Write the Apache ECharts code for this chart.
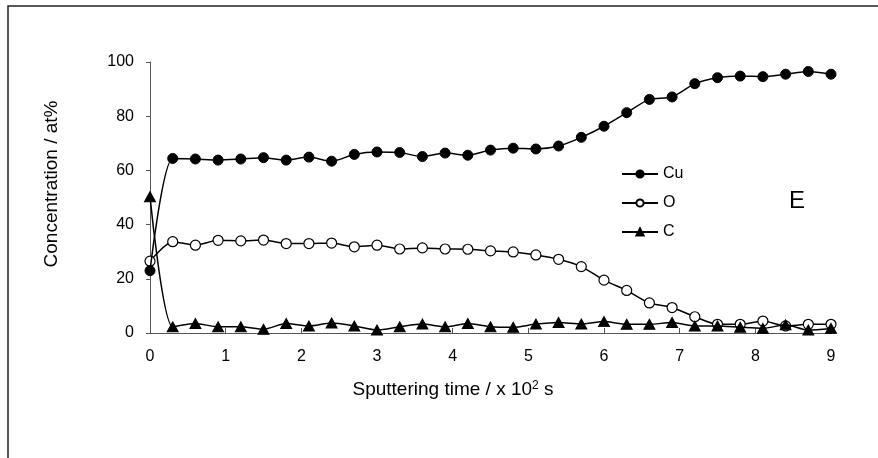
<!DOCTYPE html>
<html>
<head>
<meta charset="utf-8">
<script src="https://cdn.jsdelivr.net/npm/echarts@6/dist/echarts.min.js"></script>
<style>
html,body{margin:0;padding:0;background:#fff;}
#chart{width:878px;height:458px;}
</style>
</head>
<body>
<div id="chart"></div>
<script>
// Sputtering time (x 10^2 s)
var time = [0, 0.3, 0.6, 0.9, 1.2, 1.5, 1.8, 2.1, 2.4, 2.7, 3.0, 3.3, 3.6, 3.9, 4.2, 4.5, 4.8, 5.1, 5.4, 5.7, 6.0, 6.3, 6.6, 6.9, 7.2, 7.5, 7.8, 8.1, 8.4, 8.7, 9.0];
// Concentrations (at%)
var cuValues = [23, 64.4, 64.2, 63.8, 64.2, 64.7, 63.8, 64.9, 63.4, 65.9, 66.8, 66.6, 65.1, 66.4, 65.6, 67.5, 68.2, 67.9, 69.0, 72.2, 76.3, 81.3, 86.2, 87.1, 92.0, 94.2, 94.8, 94.6, 95.5, 96.5, 95.5];
var oValues = [26.5, 33.7, 32.4, 34.2, 34.0, 34.3, 33.0, 33.0, 33.2, 31.8, 32.4, 31.0, 31.4, 31.0, 30.9, 30.3, 29.9, 28.8, 27.2, 24.5, 19.5, 15.7, 11.1, 9.4, 6.0, 3.2, 3.2, 4.4, 2.6, 3.2, 3.2];
var cValues = [50.3, 2.3, 3.5, 2.3, 2.3, 1.4, 3.5, 2.6, 3.7, 2.6, 1.1, 2.3, 3.3, 2.3, 3.5, 2.3, 2.1, 3.3, 3.9, 3.3, 4.2, 3.2, 3.2, 3.9, 2.6, 2.6, 2.1, 1.7, 3.0, 1.1, 1.7];
var seriesNames = ['Cu', 'O', 'C'];
var yTicks = [0, 20, 40, 60, 80, 100];
var xTicks = [0, 1, 2, 3, 4, 5, 6, 7, 8, 9];

function pairs(vals) {
  return time.map(function (t, i) { return [t, vals[i]]; });
}

var FONT = '"Liberation Sans", Arial, Helvetica, sans-serif';
var chart = echarts.init(document.getElementById('chart'), null, {renderer: 'canvas'});

var option = {
  backgroundColor: '#fff',
  animation: false,
  textStyle: {fontFamily: FONT, color: '#000'},
  grid: {left: 150, right: 47, top: 62, bottom: 125, containLabel: false},
  xAxis: {
    type: 'value',
    min: xTicks[0], max: xTicks[xTicks.length - 1], interval: 1,
    axisLine: {show: true, onZero: false, lineStyle: {color: '#555', width: 1}},
    axisTick: {show: true, inside: true, length: 5, lineStyle: {color: '#555', width: 1}},
    axisLabel: {color: '#000', fontSize: 16, fontFamily: FONT, margin: 16},
    splitLine: {show: false}
  },
  yAxis: {
    type: 'value',
    min: yTicks[0], max: yTicks[yTicks.length - 1], interval: 20,
    axisLine: {show: true, lineStyle: {color: '#555', width: 1}},
    axisTick: {show: true, inside: false, length: 4, lineStyle: {color: '#555', width: 1}},
    axisLabel: {color: '#000', fontSize: 16, fontFamily: FONT, margin: 16},
    splitLine: {show: false}
  },
  legend: {
    orient: 'vertical',
    left: 616, top: 161,
    itemWidth: 36, itemHeight: 9,
    itemGap: 13,
    textStyle: {fontSize: 16, fontFamily: FONT, color: '#000'},
    data: seriesNames
  },
  series: [
    {
      name: seriesNames[0], type: 'line', data: pairs(cuValues), smooth: 0.25,
      symbol: 'circle', symbolSize: 10,
      lineStyle: {color: '#000', width: 1.5},
      itemStyle: {color: '#000', borderColor: '#000', borderWidth: 1},
      z: 3
    },
    {
      name: seriesNames[1], type: 'line', data: pairs(oValues), smooth: 0.25,
      symbol: 'circle', symbolSize: 10,
      lineStyle: {color: '#000', width: 1.5},
      itemStyle: {color: '#fff', borderColor: '#000', borderWidth: 1.2},
      z: 2
    },
    {
      name: seriesNames[2], type: 'line', data: pairs(cValues), smooth: 0.25,
      symbol: 'triangle', symbolSize: [11, 10],
      lineStyle: {color: '#000', width: 1.5},
      itemStyle: {color: '#000', borderColor: '#000', borderWidth: 1},
      z: 4
    }
  ],
  graphic: [
    {
      type: 'rect', silent: true, z: -10,
      shape: {x: 8, y: 6, width: 1000, height: 1000},
      style: {fill: 'none', stroke: '#222', lineWidth: 1.5}
    },
    {
      type: 'text', silent: true,
      x: 52, y: 184, rotation: Math.PI / 2,
      style: {
        text: 'Concentration / at%', fontSize: 19, fontFamily: FONT, fill: '#000',
        textAlign: 'center', textVerticalAlign: 'middle'
      }
    },
    {
      type: 'text', silent: true,
      x: 453, y: 390,
      style: {
        text: 'Sputtering time / x 10{sup|2} s', fontSize: 19, fontFamily: FONT, fill: '#000',
        textAlign: 'center', textVerticalAlign: 'middle',
        rich: {sup: {fontSize: 12, fontFamily: FONT, fill: '#000', padding: [0, 0, 9, 0]}}
      }
    },
    {
      type: 'text', silent: true,
      x: 797, y: 201,
      style: {
        text: 'E', fontSize: 24, fontFamily: FONT, fill: '#000',
        textAlign: 'center', textVerticalAlign: 'middle'
      }
    }
  ]
};
chart.setOption(option);
</script>
</body>
</html>
